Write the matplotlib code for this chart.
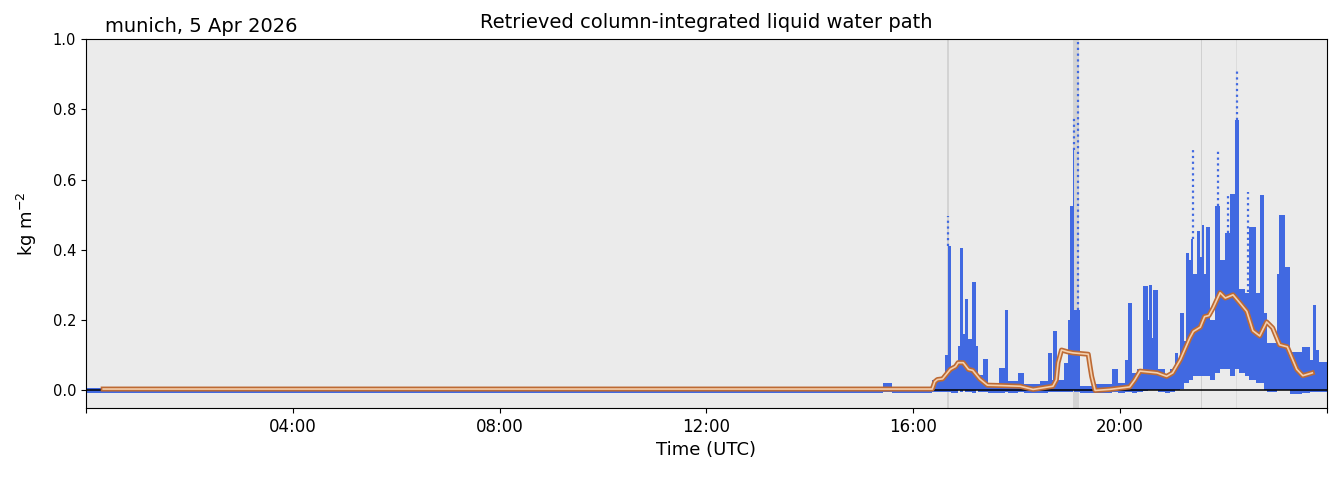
import matplotlib

matplotlib.use("Agg")
import matplotlib.patheffects as pe
import matplotlib.pyplot as plt
import numpy as np

OUT_PATH = "out.png"

# retrievals, condensed into time bins: bin start, bottom and top of the dense point cloud (kg m-2)
bin_start = [
    "00:00", "01:00", "02:00", "03:00", "04:00", "05:00", "06:00", "07:00",
    "08:00", "09:00", "10:00", "11:00", "12:00", "13:00", "14:00", "15:00",
    "15:25", "15:35", "16:00", "16:13", "16:22", "16:37", "16:40", "16:44",
    "16:48", "16:52", "16:54", "16:58", "17:00", "17:03", "17:08", "17:13",
    "17:15", "17:21", "17:27", "17:40", "17:46", "17:50", "18:02", "18:09",
    "18:27", "18:36", "18:41", "18:42", "18:47", "18:55", "18:59", "19:02",
    "19:05", "19:07", "19:10", "19:13", "19:27", "19:51", "19:57", "20:06",
    "20:09", "20:14", "20:20", "20:26", "20:32", "20:33", "20:37", "20:38",
    "20:44", "20:52", "20:58", "21:04", "21:07", "21:10", "21:14", "21:17",
    "21:20", "21:22", "21:25", "21:29", "21:33", "21:35", "21:37", "21:40",
    "21:44", "21:50", "21:56", "22:02", "22:07", "22:13", "22:18", "22:25",
    "22:30", "22:38", "22:42", "22:47", "22:51", "23:02", "23:04", "23:11",
    "23:17", "23:31", "23:40", "23:44", "23:47", "23:51", "24:00",
]
lwp_low = [
    -0.007, -0.006, -0.007, -0.006, -0.006, -0.006, -0.007, -0.006,
    -0.006, -0.006, -0.007, -0.006, -0.006, -0.006, -0.007, -0.006,
    -0.004, -0.006, -0.007, -0.008, -0.005, -0.005, -0.005, -0.008,
    -0.006, 0.000, -0.005, 0.000, -0.005, -0.005, -0.008, 0.000,
    -0.005, -0.005, -0.008, -0.006, -0.005, -0.006, -0.005, -0.008,
    -0.006, -0.005, -0.005, -0.005, -0.005, -0.004, -0.004, -0.004,
    0.000, -0.004, -0.004, -0.008, -0.008, -0.005, -0.006, -0.004,
    -0.004, -0.006, -0.004, -0.002, 0.000, 0.000, 0.000, 0.000,
    -0.005, -0.006, -0.004, 0.000, 0.000, 0.005, 0.020, 0.020,
    0.030, 0.030, 0.040, 0.040, 0.040, 0.040, 0.040, 0.040,
    0.030, 0.050, 0.060, 0.060, 0.040, 0.060, 0.050, 0.040,
    0.030, 0.020, 0.020, 0.000, -0.005, 0.000, 0.000, 0.000,
    -0.010, -0.008, -0.005, -0.005, -0.004, -0.004,
]
lwp_high = [
    0.006, 0.005, 0.006, 0.005, 0.006, 0.005, 0.006, 0.005,
    0.006, 0.005, 0.006, 0.005, 0.005, 0.006, 0.006, 0.007,
    0.020, 0.006, 0.008, 0.008, 0.030, 0.100, 0.410, 0.060,
    0.075, 0.126, 0.405, 0.160, 0.260, 0.145, 0.310, 0.126,
    0.045, 0.090, 0.020, 0.065, 0.230, 0.026, 0.050, 0.017,
    0.026, 0.107, 0.030, 0.169, 0.030, 0.079, 0.200, 0.524,
    0.685, 0.230, 0.230, 0.012, 0.017, 0.060, 0.020, 0.088,
    0.249, 0.050, 0.060, 0.296, 0.200, 0.300, 0.150, 0.287,
    0.060, 0.040, 0.060, 0.107, 0.088, 0.220, 0.140, 0.390,
    0.370, 0.430, 0.330, 0.455, 0.380, 0.470, 0.330, 0.466,
    0.200, 0.524, 0.370, 0.448, 0.560, 0.770, 0.290, 0.277,
    0.466, 0.277, 0.557, 0.220, 0.135, 0.330, 0.500, 0.350,
    0.110, 0.125, 0.088, 0.244, 0.115, 0.080,
]

# isolated retrievals above the dense cloud
sparse_time = ["16:40", "19:06", "19:11", "21:24", "21:53", "22:05", "22:16", "22:28"]
sparse_base = [0.410, 0.685, 0.230, 0.430, 0.524, 0.448, 0.770, 0.280]
sparse_top = [0.497, 0.774, 0.995, 0.686, 0.686, 0.560, 0.917, 0.565]

# smoothed liquid water path
smooth_time = [
    "00:20", "16:22", "16:25", "16:28", "16:34", "16:43", "16:49", "16:52",
    "16:58", "17:04", "17:09", "17:17", "17:26", "17:41", "18:04", "18:19",
    "18:42", "18:46", "18:48", "18:52", "18:59", "19:05", "19:23", "19:25",
    "19:27", "19:31", "19:48", "20:11", "20:17", "20:23", "20:43", "20:54",
    "21:01", "21:10", "21:21", "21:25", "21:33", "21:38", "21:43", "21:48",
    "21:56", "22:02", "22:11", "22:19", "22:27", "22:34", "22:42", "22:50",
    "22:57", "23:05", "23:14", "23:25", "23:32", "23:43",
]
smooth_lwp = [
    0.004, 0.004, 0.025, 0.031, 0.033, 0.060, 0.068, 0.079,
    0.079, 0.060, 0.057, 0.033, 0.015, 0.014, 0.012, 0.003,
    0.012, 0.030, 0.079, 0.115, 0.110, 0.107, 0.103, 0.070,
    0.040, 0.000, 0.003, 0.010, 0.030, 0.055, 0.050, 0.040,
    0.050, 0.088, 0.150, 0.168, 0.180, 0.210, 0.213, 0.235,
    0.278, 0.263, 0.272, 0.249, 0.225, 0.170, 0.155, 0.195,
    0.178, 0.130, 0.124, 0.060, 0.042, 0.050,
]

# flagged periods (grey bands)
flag_start = ["16:38.7", "16:54.9", "19:04.9", "21:34.2", "22:14.9"]
flag_end = ["16:41.6", "16:55.8", "19:11.8", "21:35.5", "22:15.6"]
flag_color = ["#d3d3d3", "#dadada", "#d3d3d3", "#d0d0d0", "#dcdcdc"]


def to_hours(stamp: str) -> float:
    hh, mm = stamp.split(":")
    return int(hh) + float(mm) / 60


def plot_lwp() -> None:
    edges = np.array([to_hours(s) for s in bin_start])
    low = np.array(lwp_low)
    high = np.array(lwp_high)

    fig = plt.figure(figsize=(13.39, 4.78), dpi=100)
    ax = fig.add_axes([0.0642, 0.1464, 0.9268, 0.772])
    ax.set_facecolor("#ebebeb")

    for start, end, color in zip(flag_start, flag_end, flag_color):
        ax.axvspan(to_hours(start), to_hours(end), color=color, lw=0, zorder=1)

    ax.bar(
        edges[:-1],
        high - low,
        bottom=low,
        width=np.diff(edges),
        align="edge",
        color="royalblue",
        linewidth=0,
        zorder=2,
    )
    ax.vlines(
        [to_hours(s) for s in sparse_time],
        sparse_base,
        sparse_top,
        colors="royalblue",
        linestyles=(0, (1, 1.6)),
        linewidth=1.6,
        zorder=2,
    )

    ax.axhline(0, color="black", linewidth=1.1, zorder=3)

    ax.plot(
        [to_hours(s) for s in smooth_time],
        smooth_lwp,
        color="#f4cfad",
        linewidth=1.2,
        zorder=4,
        path_effects=[
            pe.Stroke(linewidth=3.6, foreground="#bd6a34"),
            pe.Normal(),
        ],
    )

    ax.set_xlim(0, 24)
    ax.set_ylim(-0.05, 1.0)
    ax.set_xticks([0, 4, 8, 12, 16, 20, 24])
    ax.set_xticklabels(["", "04:00", "08:00", "12:00", "16:00", "20:00", ""])
    ax.set_yticks([0.0, 0.2, 0.4, 0.6, 0.8, 1.0])
    ax.tick_params(axis="x", labelsize=12)
    ax.tick_params(axis="y", labelsize=10.5)

    ax.set_xlabel("Time (UTC)", fontsize=13)
    ax.set_ylabel("kg m$^{-2}$", fontsize=13, labelpad=10)
    ax.set_title("Retrieved column-integrated liquid water path", fontsize=14, pad=8)
    ax.text(
        0.015, 1.008, "munich, 5 Apr 2026",
        transform=ax.transAxes, fontsize=14, va="bottom", ha="left",
    )

    fig.savefig(OUT_PATH, dpi=100)


if __name__ == "__main__":
    plot_lwp()
